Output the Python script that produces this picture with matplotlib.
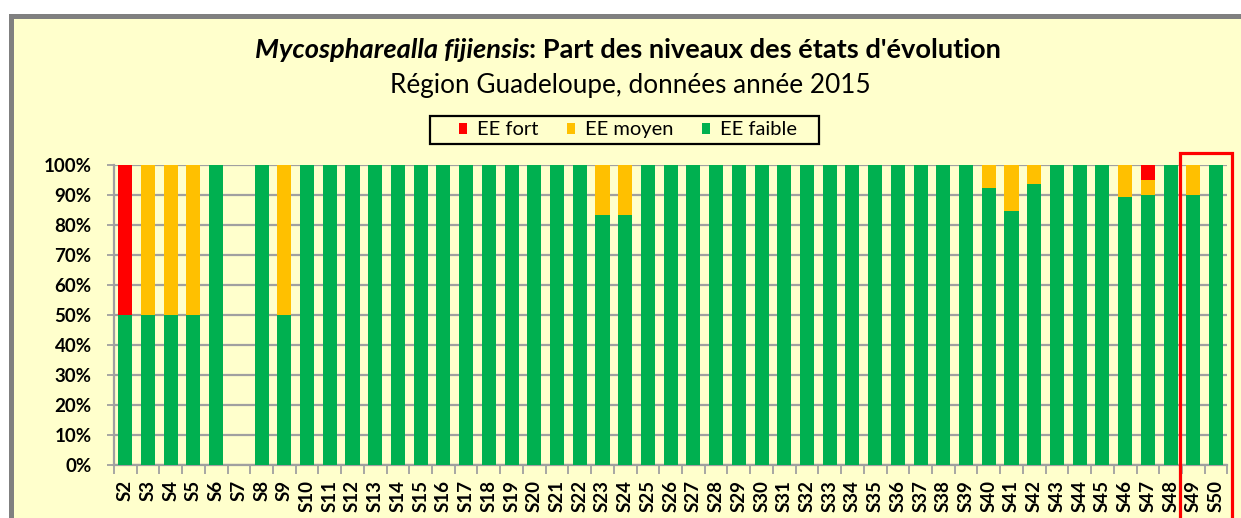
import matplotlib
matplotlib.use("Agg")
import matplotlib.pyplot as plt
from matplotlib.patches import Rectangle, Patch
import numpy as np

weeks = ["S%d" % i for i in range(2, 51)]
# percentages per week (S2..S50)
ee_faible = [50, 50, 50, 50, 100, 0, 100, 50, 100, 100,
             100, 100, 100, 100, 100, 100, 100, 100, 100, 100,
             100, 83.3, 83.3, 100, 100, 100, 100, 100, 100, 100,
             100, 100, 100, 100, 100, 100, 100, 100, 92.3, 84.6,
             93.7, 100, 100, 100, 89.5, 90, 100, 90, 100]
ee_moyen = [0, 50, 50, 50, 0, 0, 0, 50, 0, 0,
            0, 0, 0, 0, 0, 0, 0, 0, 0, 0,
            0, 16.7, 16.7, 0, 0, 0, 0, 0, 0, 0,
            0, 0, 0, 0, 0, 0, 0, 0, 7.7, 15.4,
            6.3, 0, 0, 0, 10.5, 5, 0, 10, 0]
ee_fort = [50, 0, 0, 0, 0, 0, 0, 0, 0, 0,
           0, 0, 0, 0, 0, 0, 0, 0, 0, 0,
           0, 0, 0, 0, 0, 0, 0, 0, 0, 0,
           0, 0, 0, 0, 0, 0, 0, 0, 0, 0,
           0, 0, 0, 0, 0, 5, 0, 0, 0]
yticks = [0, 10, 20, 30, 40, 50, 60, 70, 80, 90, 100]
ytick_labels = ["%d%%" % v for v in yticks]

RED, YEL, GRN = "#FF0000", "#FFC000", "#00B050"
BG = "#FFFFCC"
GRID = "#A0A0A0"
FONT = "Lato"

W, H = 1241, 518
fig = plt.figure(figsize=(W / 100, H / 100), dpi=100)
fig.patch.set_facecolor("white")

# chart area frame
fig.patches.append(Rectangle((10.5 / W, -0.2), 1.2, 1 - 15.5 / H + 0.2, transform=fig.transFigure,
                             facecolor=BG, edgecolor="#808080", linewidth=3.6, zorder=-5))

ax = fig.add_axes([113.9 / W, 53 / H, (1227.4 - 113.9) / W, 300 / H])
ax.set_zorder(1)
ax.patch.set_alpha(0)
x = np.arange(len(weeks))
f = np.array(ee_faible); m = np.array(ee_moyen); r = np.array(ee_fort)
ax.bar(x, f, width=0.62, color=GRN, zorder=3)
ax.bar(x, m, bottom=f, width=0.62, color=YEL, zorder=3)
ax.bar(x, r, bottom=f + m, width=0.62, color=RED, zorder=3)

ax.set_xlim(-0.5, len(weeks) - 0.5)
ax.set_ylim(0, 100)
ax.set_yticks(yticks)
ax.set_yticklabels(ytick_labels, fontfamily=FONT, fontweight="bold", fontsize=13.5)
ax.yaxis.grid(True, color=GRID, linewidth=1.6, zorder=1)
ax.set_axisbelow(True)
ax.set_xticks(x)
ax.set_xticklabels(weeks, rotation=90, fontfamily=FONT, fontweight="bold", fontsize=13.5,
                   va="top")
ax.set_xticks(np.arange(-0.5, len(weeks), 1), minor=True)
ax.tick_params(axis="x", which="major", length=0, pad=11)
ax.tick_params(axis="x", which="minor", length=6.5, color=GRID, width=1.3)
ax.tick_params(axis="y", length=5, color=GRID, width=1.3, pad=11)
for s in ["top", "right"]:
    ax.spines[s].set_visible(False)
for s in ["left", "bottom"]:
    ax.spines[s].set_color(GRID)
    ax.spines[s].set_linewidth(1.6)

# title with italic part
fig.canvas.draw()
rend = fig.canvas.get_renderer()
ty = 1 - 50 / H
t1 = fig.text(0, ty, "Mycospharealla fijiensis", fontfamily=FONT, fontsize=19.6,
              fontweight="bold", fontstyle="italic", ha="left", va="center")
t2 = fig.text(0, ty, ": Part des niveaux des états d'évolution", fontfamily=FONT,
              fontsize=19.6, fontweight="bold", ha="left", va="center")
w1 = t1.get_window_extent(rend).width
w2 = t2.get_window_extent(rend).width
x0 = 628 - (w1 + w2) / 2
t1.set_x(x0 / W)
t2.set_x((x0 + w1) / W)
fig.text(630 / W, 1 - 85 / H, "Région Guadeloupe, données année 2015", fontfamily=FONT,
         fontsize=18.8, ha="center", va="center")

handles = [Patch(facecolor=RED, edgecolor="none", label="EE fort"),
           Patch(facecolor=YEL, edgecolor="none", label="EE moyen"),
           Patch(facecolor=GRN, edgecolor="none", label="EE faible")]
leg = fig.legend(handles=handles, loc="center", bbox_to_anchor=(628 / W, 1 - 130 / H), ncol=3,
                 prop={"family": FONT, "size": 14.5}, frameon=False, handlelength=0.42,
                 handleheight=0.42, handletextpad=0.5, columnspacing=1.4,
                 borderpad=0.2)
fig.patches.append(Rectangle((430 / W, 1 - 144 / H), 389 / W, 28 / H, transform=fig.transFigure,
                             facecolor="none", edgecolor="black", linewidth=1.6, zorder=2))

# highlight box around the last two weeks
fig.patches.append(Rectangle((1180 / W, -0.1), 52 / W, 1 - 153 / H + 0.1, transform=fig.transFigure,
                             facecolor="none", edgecolor="#FF0000", linewidth=2.3, zorder=10))

fig.savefig("out.png", dpi=100, facecolor=fig.get_facecolor())
